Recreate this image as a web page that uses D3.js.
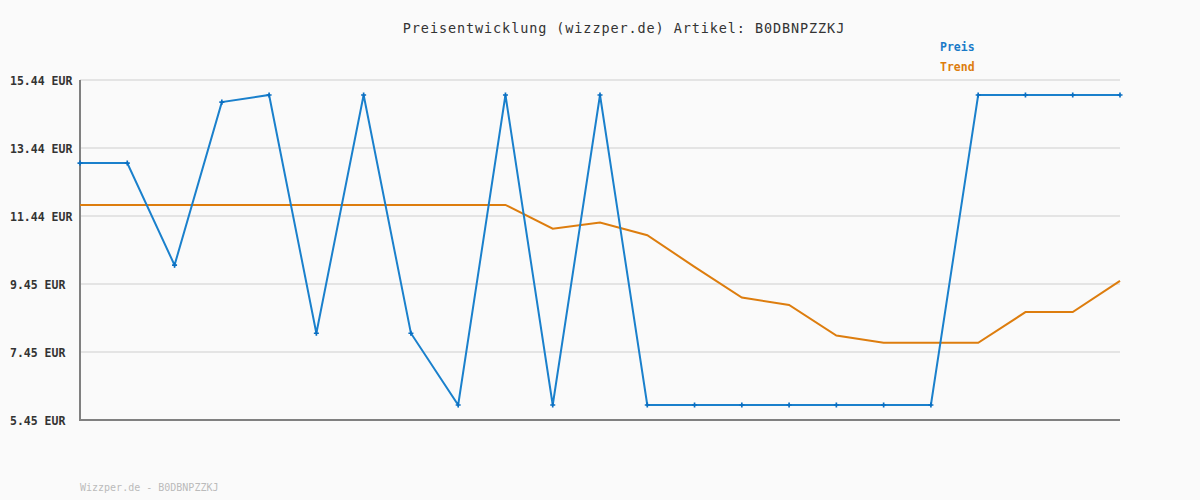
<!DOCTYPE html>
<html><head><meta charset="utf-8">
<script src="https://cdn.jsdelivr.net/npm/d3@7"></script>
<style>body{margin:0;background:#fafafa;}svg{display:block;}</style>
</head><body>
<svg id="c" width="1200" height="500"></svg>
<script>
const titleText = "Preisentwicklung (wizzper.de) Artikel: B0DBNPZZKJ";
const footerText = "Wizzper.de - B0DBNPZZKJ";
const seriesNames = ["Preis", "Trend"];
const preis = [13.00,13.00,10.00,14.79,15.00,8.00,15.00,8.00,5.89,15.00,5.89,15.00,5.89,5.89,5.89,5.89,5.89,5.89,5.89,15.00,15.00,15.00,15.00];
const trend = [11.77,11.77,11.77,11.77,11.77,11.77,11.77,11.77,11.77,11.77,11.07,11.25,10.88,9.95,9.05,8.83,7.93,7.72,7.72,7.72,8.62,8.62,9.54];
const tickValues = [5.45,7.448,9.446,11.444,13.442,15.44];
const tickLabels = ["5.45 EUR","7.45 EUR","9.45 EUR","11.44 EUR","13.44 EUR","15.44 EUR"];

const svg = d3.select("#c");
const W=1200,H=500, L=80,R=1120,T=80,B=420;
svg.append("rect").attr("width",W).attr("height",H).attr("fill","#fafafa");
const x = d3.scaleLinear().domain([0,preis.length-1]).range([L,R]);
const y = d3.scaleLinear().domain([5.45,15.44]).range([B,T]);
const mono = "'DejaVu Sans Mono', monospace";

// grid
svg.append("g").selectAll("line").data(tickValues).join("line")
  .attr("x1",L).attr("x2",R).attr("y1",d=>y(d)).attr("y2",d=>y(d))
  .attr("stroke","#e4e4e4").attr("stroke-width",2);
// y labels
svg.append("g").selectAll("text").data(tickValues).join("text")
  .attr("x",10).attr("y",d=>y(d)+4.5).text((d,i)=>tickLabels[i])
  .attr("font-family",mono).attr("font-size",11.5).attr("font-weight","bold").attr("fill","#333");
// axes
svg.append("line").attr("x1",L).attr("x2",L).attr("y1",T).attr("y2",B+1).attr("stroke","#808080").attr("stroke-width",2);
svg.append("line").attr("x1",L-1).attr("x2",R).attr("y1",B).attr("y2",B).attr("stroke","#808080").attr("stroke-width",2);

const line = d3.line().x((d,i)=>x(i)).y(d=>y(d));
svg.append("path").attr("d",line(trend)).attr("fill","none").attr("stroke","#dd7d0e").attr("stroke-width",2);
svg.append("path").attr("d",line(preis)).attr("fill","none").attr("stroke","#1a80cc").attr("stroke-width",2);
svg.append("g").selectAll("path").data(preis).join("path")
  .attr("d",d3.symbol(d3.symbolCross,14)).attr("transform",(d,i)=>`translate(${x(i)},${y(d)})`)
  .attr("fill","#0a6fc2");

// title
svg.append("text").attr("x",624).attr("y",33).attr("text-anchor","middle").text(titleText)
  .attr("font-family",mono).attr("font-size",13.5).attr("letter-spacing",0.9).attr("fill","#333");
// legend
const lc = ["#1a7ac8","#dd7d0e"];
svg.append("g").selectAll("text").data(seriesNames).join("text")
  .attr("x",940).attr("y",(d,i)=>51+i*20).text(d=>d)
  .attr("font-family",mono).attr("font-size",11.5).attr("font-weight","bold").attr("fill",(d,i)=>lc[i]);
// footer
svg.append("text").attr("x",80).attr("y",491).text(footerText)
  .attr("font-family",mono).attr("font-size",10).attr("fill","#bbb");
</script>
</body></html>
